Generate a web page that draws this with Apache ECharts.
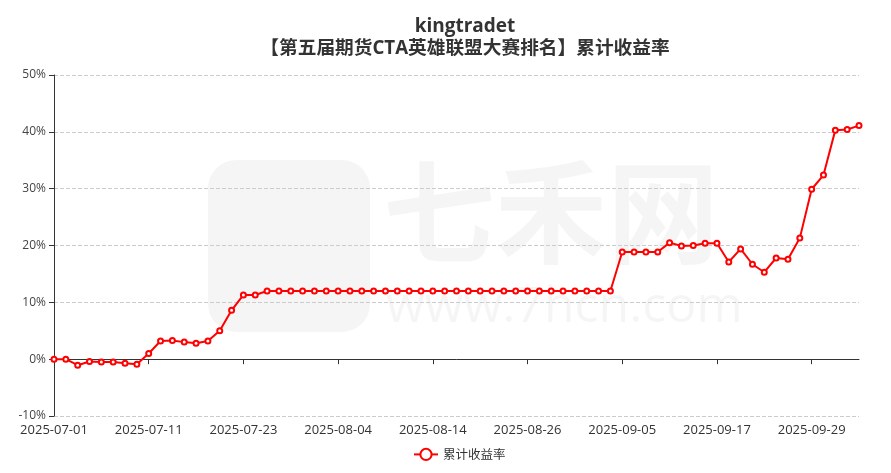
<!DOCTYPE html>
<html>
<head>
<meta charset="utf-8">
<script src="https://cdn.jsdelivr.net/npm/echarts@6/dist/echarts.min.js"></script>
<style>html,body{margin:0;padding:0;background:#fff}#c{width:891px;height:473px}</style>
</head>
<body>
<div id="c"></div>
<script>
var dates = ['2025-07-01','2025-07-02','2025-07-03','2025-07-04','2025-07-07','2025-07-08','2025-07-09','2025-07-10','2025-07-11',
'2025-07-14','2025-07-15','2025-07-16','2025-07-17','2025-07-18','2025-07-21','2025-07-22','2025-07-23',
'2025-07-24','2025-07-25','2025-07-28','2025-07-29','2025-07-30','2025-07-31','2025-08-01','2025-08-04',
'2025-08-05','2025-08-06','2025-08-07','2025-08-08','2025-08-11','2025-08-12','2025-08-13','2025-08-14',
'2025-08-15','2025-08-18','2025-08-19','2025-08-20','2025-08-21','2025-08-22','2025-08-25','2025-08-26',
'2025-08-27','2025-08-28','2025-08-29','2025-09-01','2025-09-02','2025-09-03','2025-09-04','2025-09-05',
'2025-09-08','2025-09-09','2025-09-10','2025-09-11','2025-09-12','2025-09-15','2025-09-16','2025-09-17',
'2025-09-18','2025-09-19','2025-09-22','2025-09-23','2025-09-24','2025-09-25','2025-09-26','2025-09-29',
'2025-09-30','2025-10-09','2025-10-10','2025-10-13'];
var returns = [0,0,-1.06,-0.4,-0.5,-0.5,-0.7,-0.9,1.0,
3.2,3.3,3.0,2.8,3.2,5.0,8.6,11.3,
11.3,12.0,12.0,12.0,12.0,12.0,12.0,12.0,
12.0,12.0,12.0,12.0,12.0,12.0,12.0,12.0,
12.0,12.0,12.0,12.0,12.0,12.0,12.0,12.0,
12.0,12.0,12.0,12.0,12.0,12.0,12.0,18.85,
18.85,18.85,18.85,20.5,19.9,20.0,20.4,20.4,
17.1,19.4,16.7,15.3,17.8,17.6,21.3,29.9,
32.4,40.3,40.4,41.1];
var seriesName = '累计收益率';
var titleText = 'kingtradet';
var subTitleText = '【第五届期货CTA英雄联盟大赛排名】累计收益率';

var chart = echarts.init(document.getElementById('c'));
var font = '"Noto Sans CJK SC", "Noto Sans", sans-serif';
var titleFont = '"Open Sans", "Noto Sans CJK SC", sans-serif';
var labelFont = '"Open Sans", "Noto Sans", sans-serif';
chart.setOption({
  animation: false,
  backgroundColor: '#fff',
  textStyle: { fontFamily: font },
  title: {
    text: titleText,
    subtext: subTitleText,
    left: 460,
    textAlign: 'center',
    top: 11,
    itemGap: 0,
    textStyle: { fontSize: 19, fontWeight: 'bold', color: '#333', fontFamily: titleFont, lineHeight: 22 },
    subtextStyle: { fontSize: 18.7, fontWeight: 'bold', color: '#333', fontFamily: titleFont, lineHeight: 22 }
  },
  graphic: [
    { type: 'rect', z: -10, silent: true, shape: { x: 208, y: 160, width: 162, height: 172, r: 28 }, style: { fill: 'rgba(0,0,0,0.04)' } },
    { type: 'text', z: -10, silent: true, left: 383, top: 156, style: { text: '七禾网', fontSize: 112, fontWeight: 'bold', fill: 'rgba(0,0,0,0.038)', fontFamily: font } },
    { type: 'text', z: -10, silent: true, left: 386, top: 283, style: { text: 'www.7hcn.com', fontSize: 50, fill: 'rgba(0,0,0,0.038)', fontFamily: labelFont } }
  ],
  legend: {
    bottom: 7,
    left: 408,
    data: [seriesName],
    itemWidth: 24,
    itemHeight: 14,
    itemGap: 8,
    textStyle: { color: '#333', fontSize: 12.5, fontFamily: font }
  },
  grid: { left: 54, right: 32, top: 75, bottom: 57 },
  xAxis: [
    {
      type: 'category',
      data: dates,
      boundaryGap: false,
      axisLine: { onZero: true, lineStyle: { color: '#333' } },
      axisTick: { show: true, interval: 7, lineStyle: { color: '#333' } },
      axisLabel: { show: false }
    },
    {
      type: 'category',
      data: dates,
      position: 'bottom',
      boundaryGap: false,
      axisLine: { show: false, onZero: false },
      axisTick: { show: false },
      axisLabel: { show: true, interval: 7, color: '#333', fontSize: 13, fontFamily: labelFont, margin: 8 }
    }
  ],
  yAxis: {
    type: 'value',
    min: -10,
    max: 50,
    interval: 10,
    axisLine: { show: true, lineStyle: { color: '#333' } },
    axisTick: { show: true, lineStyle: { color: '#333' } },
    axisLabel: { formatter: '{value}%', color: '#444', fontSize: 12, fontFamily: labelFont },
    splitLine: { show: true, lineStyle: { type: 'dashed', color: '#ccc' } }
  },
  series: [{
    name: seriesName,
    type: 'line',
    data: returns,
    xAxisIndex: 0,
    symbol: 'emptyCircle',
    symbolSize: 5,
    showAllSymbol: true,
    itemStyle: { color: '#ff0000', borderWidth: 1 },
    lineStyle: { color: '#ff0000', width: 2 }
  }]
});
</script>
</body>
</html>
